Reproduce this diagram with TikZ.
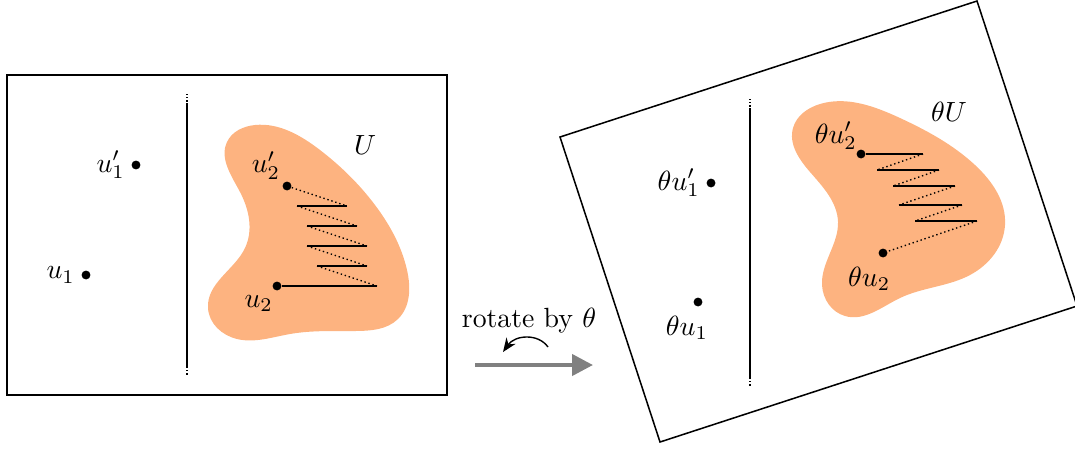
\documentclass[tikz,border=0pt]{standalone}
\usetikzlibrary{arrows.meta,positioning,hobby}
\definecolor{blobfill}{HTML}{FDB380}

\begin{document}
\begin{tikzpicture}[
  x=0.36pt, y=-0.36pt,
  frame/.style={draw, line width=0.55pt},
  wall/.style={line width=0.6pt},
  wallend/.style={line width=0.7pt, dash pattern=on 0.5pt off 0.6pt},
  dot/.style={circle, fill=black, inner sep=0pt, minimum size=3.2pt},
  lbl/.style={inner sep=2pt},
  blob/.style={fill=blobfill, draw=none},
  hop/.style={line width=0.5pt},
  back/.style={densely dotted, line width=0.5pt},
  rotarrow/.style={-{Triangle[length=7.5pt,width=7.5pt]}, black!50, line width=1.5pt},
  twist/.style={-{Stealth[length=5pt,width=4pt]}, line width=0.5pt},
]
  \useasboundingbox (0,0) rectangle (1075,448);

  %% ---- Left panel ----
  \draw[frame] (7,75) rectangle (447,395);
  \draw[wall] (187,103) -- (187,367);
  \draw[wallend] (187,94) -- (187,103);
  \draw[wallend] (187,367) -- (187,376);

  \fill[blob, use Hobby shortcut, closed=true]
    (255,125) .. (320,150) .. (375,205) .. (407,270) .. (398,319)
    .. (355,331) .. (290,334) .. (237,339) .. (208,308) .. (245,248)
    .. (240,192) .. (227,142);
  \node at (365,145) {$U$};

  \node[dot] (u1p) at (136,165) {};
  \node[dot] (u1)  at (86,275)  {};
  \node[dot] (u2p) at (287,186) {};
  \node[dot] (u2)  at (277,286) {};
  \node[lbl, left=0pt of u1p] {$u_1'$};
  \node[lbl, left=0pt of u1]  {$u_1$};
  \node[lbl, above left=-1pt and -1pt of u2p] {$u_2'$};
  \node[lbl, below left=0pt and -2pt of u2]  {$u_2$};

  %% ---- Left zigzag ----
  \foreach \i/\xa/\xb/\y in {1/347/297/206, 2/357/307/226, 3/367/307/246, 4/367/317/266}{
    \coordinate (za\i) at (\xa,\y);
    \coordinate (zb\i) at (\xb,\y);
  }
  \coordinate (za5) at (377,286);
  \draw[back] (u2p) -- (za1);
  \foreach \i in {1,...,4}{
    \pgfmathtruncatemacro\j{\i+1}
    \draw[hop] (za\i) -- (zb\i);
    \draw[back] (zb\i) -- (za\j);
  }
  \draw[hop] (za5) -- (u2);

  %% ---- Rotation arrow ----
  \coordinate (rs) at (475,365);
  \coordinate (re) at (593,365);
  \draw[rotarrow] (rs) -- (re);
  \node (rot) at (529,321) {rotate by $\theta$};
  \coordinate (ts) at (548,347);
  \coordinate (te) at (503,352);
  \draw[twist] (ts) .. controls (538,333) and (515,335) .. (te);

  %% ---- Right panel (rotated frame) ----
  \draw[frame] (560,137) -- (977,1) -- (1077,306) -- (660,442) -- cycle;
  \draw[wall] (750,108) -- (750,378);
  \draw[wallend] (750,99) -- (750,108);
  \draw[wallend] (750,378) -- (750,387);

  \fill[blob, use Hobby shortcut, closed=true]
    (820,104) .. (900,118) .. (975,165) .. (1005,225) .. (970,275)
    .. (900,298) .. (845,316) .. (822,285) .. (838,222) .. (810,172)
    .. (793,128);
  \node at (949,112) {$\theta U$};

  \node[dot] (tu1p) at (711,183) {};
  \node[dot] (tu1)  at (698,302) {};
  \node[dot] (tu2p) at (861,154) {};
  \node[dot] (tu2)  at (883,253) {};
  \node[lbl, left=0pt of tu1p] {$\theta u_1'$};
  \node[lbl, below=1pt of tu1, xshift=-4pt] {$\theta u_1$};
  \node[lbl, above left=-2pt and -2pt of tu2p] {$\theta u_2'$};
  \node[lbl, below=1pt of tu2, xshift=-5pt] {$\theta u_2$};

  %% ---- Right zigzag ----
  \foreach \i/\x/\y in {1/923/154, 2/939/170, 3/955/186, 4/962/205, 5/977/221}{
    \coordinate (ra\i) at (\x,\y);
  }
  \foreach \i/\x/\y in {1/877/170, 2/893/186, 3/899/205, 4/915/221}{
    \coordinate (rb\i) at (\x,\y);
  }
  \draw[hop] (tu2p) -- (ra1);
  \foreach \i in {1,...,4}{
    \pgfmathtruncatemacro\j{\i+1}
    \draw[back] (ra\i) -- (rb\i);
    \draw[hop] (rb\i) -- (ra\j);
  }
  \draw[back] (ra5) -- (tu2);

\end{tikzpicture}
\end{document}
